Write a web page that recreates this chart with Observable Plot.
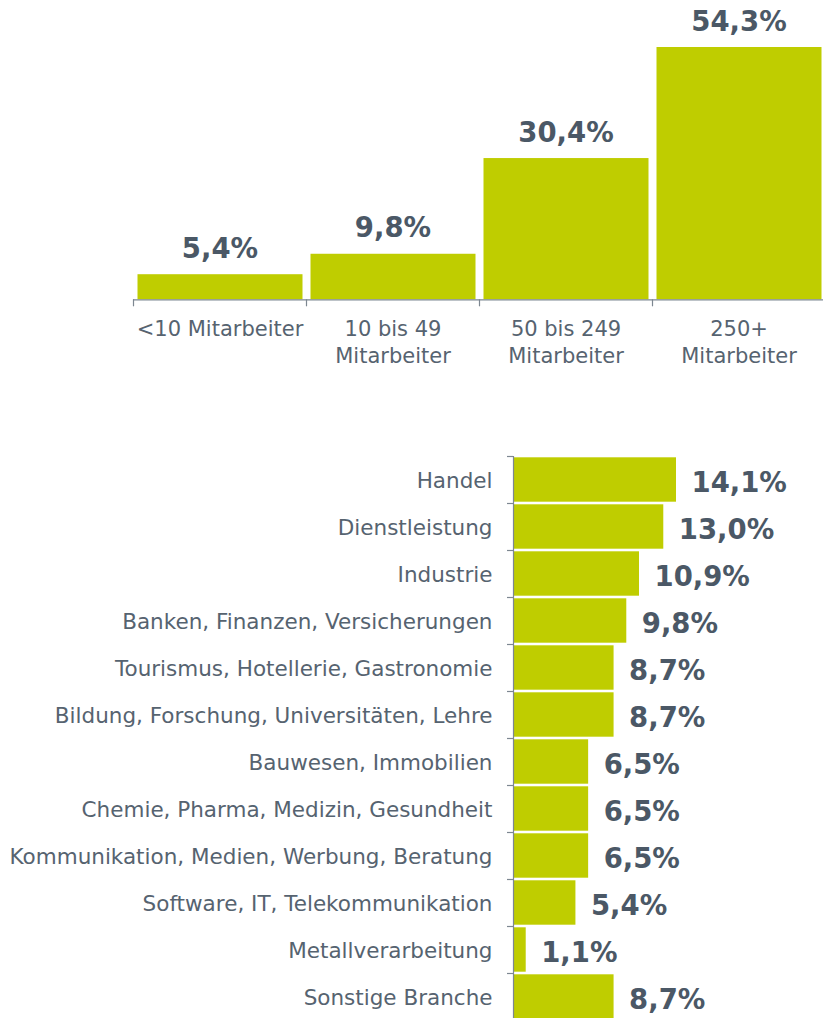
<!DOCTYPE html>
<html>
<head>
<meta charset="utf-8">
<script src="https://cdn.jsdelivr.net/npm/d3@7"></script>
<script src="https://cdn.jsdelivr.net/npm/@observablehq/plot@0.6"></script>
<style>
  html, body { margin: 0; padding: 0; background: #fff; overflow: hidden; }
  #chart svg { display: block; }
</style>
</head>
<body>
<div id="chart"></div>
<script>
// ---- Data ----
const sizeCategories = ["<10 Mitarbeiter", "10 bis 49\nMitarbeiter", "50 bis 249\nMitarbeiter", "250+\nMitarbeiter"];
const sizeValues = [5.4, 9.8, 30.4, 54.3];

const branchCategories = [
  "Handel",
  "Dienstleistung",
  "Industrie",
  "Banken, Finanzen, Versicherungen",
  "Tourismus, Hotellerie, Gastronomie",
  "Bildung, Forschung, Universitäten, Lehre",
  "Bauwesen, Immobilien",
  "Chemie, Pharma, Medizin, Gesundheit",
  "Kommunikation, Medien, Werbung, Beratung",
  "Software, IT, Telekommunikation",
  "Metallverarbeitung",
  "Sonstige Branche"
];
const branchValues = [14.1, 13.0, 10.9, 9.8, 8.7, 8.7, 6.5, 6.5, 6.5, 5.4, 1.1, 8.7];

// ---- Styles ----
const BAR = "#bfcd00";
const LABEL = "#566370";
const VALUE = "#4b5866";
const AXIS = "#7d8791";
const FONT = "Verdana, 'DejaVu Sans', sans-serif";
const fmt = v => v.toFixed(1).replace(".", ",") + "%";

const sizeData = sizeCategories.map((c, i) => ({i, cat: c, v: sizeValues[i]}));
const branchData = branchCategories.map((c, i) => ({i, cat: c, v: branchValues[i]}));

const sizeChart = Plot.plot({
  width: 823,
  height: 440,
  marginTop: 47,
  marginBottom: 140.7,
  marginLeft: 133,
  marginRight: -2,
  style: {fontFamily: FONT, background: "#fff"},
  x: {domain: [0, 4], axis: null, label: null},
  y: {domain: [0, 54.3], axis: null, label: null},
  marks: [
    Plot.rectY(sizeData, {x1: "i", x2: d => d.i + 1, y: "v", fill: BAR, insetLeft: 4.5, insetRight: 3.5}),
    Plot.ruleY([0], {stroke: AXIS, strokeWidth: 1.2}),
    Plot.axisX({ticks: [0, 1, 2, 3, 4], tickSize: 7, tickFormat: () => "", label: null, stroke: AXIS, strokeWidth: 1.2}),
    Plot.text(sizeData, {x: d => d.i + 0.5, frameAnchor: "bottom", text: "cat", lineAnchor: "top", lineHeight: 1.286, dy: 17.5, fontSize: 21, fill: LABEL}),
    Plot.text(sizeData, {x: d => d.i + 0.5, y: "v", text: d => fmt(d.v), lineAnchor: "bottom", dy: -17, fontSize: 27.5, fontWeight: "bold", fill: VALUE})
  ]
});

const branchChart = Plot.plot({
  width: 823,
  height: 580,
  marginTop: 16,
  marginBottom: 0,
  marginLeft: 513,
  marginRight: 147,
  style: {fontFamily: FONT, background: "#fff", overflow: "visible"},
  x: {domain: [0, 14.1], axis: null, label: null},
  y: {domain: [0, 12], reverse: true, axis: null, label: null},
  marks: [
    Plot.rectX(branchData, {y1: "i", y2: d => d.i + 1, x: "v", fill: BAR, insetTop: 1.3, insetBottom: 1.3}),
    Plot.ruleX([0], {stroke: AXIS, strokeWidth: 1.2}),
    Plot.axisY({ticks: d3.range(0, 13), tickSize: 6, tickFormat: () => "", label: null, stroke: AXIS, strokeWidth: 1.2}),
    Plot.text(branchData, {y: d => d.i + 0.5, frameAnchor: "left", text: "cat", textAnchor: "end", dx: -21, dy: 1, fontSize: 21.5, fill: LABEL}),
    Plot.text(branchData, {x: "v", y: d => d.i + 0.5, text: d => fmt(d.v), textAnchor: "start", dx: 15, dy: 3.4, fontSize: 27.5, fontWeight: "bold", fill: VALUE})
  ]
});

const chart = document.getElementById("chart");
chart.appendChild(sizeChart);
chart.appendChild(branchChart);
</script>
</body>
</html>
